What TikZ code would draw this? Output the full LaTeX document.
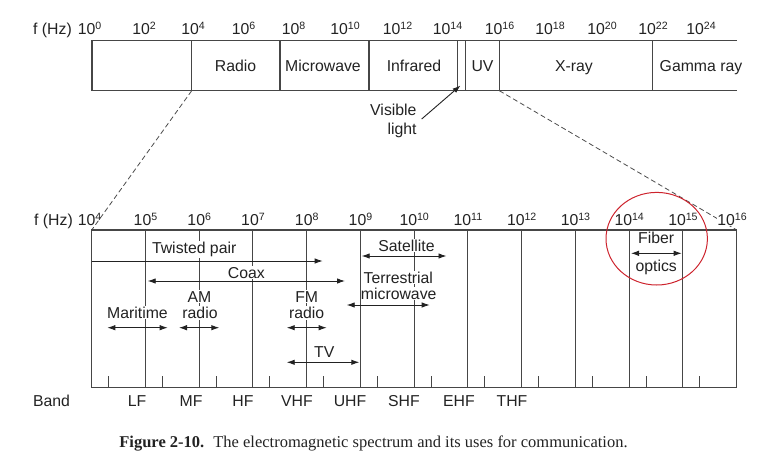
\documentclass[tikz,border=0pt]{standalone}
\usepackage{fontspec}
\setmainfont{Liberation Sans}
\newfontfamily\capfont{Liberation Serif}
\usetikzlibrary{arrows.meta}
\newcommand\pw[1]{10\raisebox{4.4pt}{\fontsize{10.6}{11}\selectfont #1}}
\definecolor{ink}{RGB}{34,34,34}
\definecolor{rule}{RGB}{70,70,70}
\definecolor{mark}{RGB}{205,35,45}
\begin{document}
\begin{tikzpicture}[x=1pt,y=-1pt,
  lbl/.style={font=\fontsize{15.8}{17}\selectfont, text=ink, inner sep=0.8pt, anchor=base},
  wlbl/.style={lbl, fill=white},
  frame/.style={draw=rule, line width=1.05pt},
  tick/.style={draw=rule, line width=1pt},
  guide/.style={draw=black!70, line width=0.8pt, dash pattern=on 5pt off 3pt},
  arr/.style={draw=ink, line width=0.9pt, -{Latex[length=8pt,width=5.5pt]}},
  darr/.style={draw=ink, line width=0.9pt, {Latex[length=8pt,width=5.5pt]}-{Latex[length=8pt,width=5.5pt]}},
  ring/.style={draw=mark, line width=1pt}
]
\useasboundingbox (0,0) rectangle (758,460);

% ---------- top scale ----------
\draw[frame] (736.7,40.7) -- (92,40.7) -- (92,90.7) -- (736.7,90.7);
\foreach \x/\nm in {191.7/d4, 280/d8, 369/d12, 457.7/dv1, 465.7/dv2, 499.3/d16, 652.7/d22}
  \draw[frame] (\x,40.7) -- (\x,90.7) coordinate (\nm);

\node[lbl] (fhzA) at (52.5,34.3) {f (Hz)};
\foreach \x/\e in {89.5/0, 144/2, 193/4, 243.5/6, 293.5/8, 345/10, 397.5/12, 447.5/14, 499.5/16, 550/18, 602/20, 653/22, 701/24}
  \node[lbl] (ta\e) at (\x,34.3) {\pw{\e}};

\node[lbl] (radio) at (235.5,71.7) {Radio};
\node[lbl] (micro) at (323,71.7) {Microwave};
\node[lbl] (infra) at (414,71.7) {Infrared};
\node[lbl] (uv) at (482.5,71.7) {UV};
\node[lbl] (xray) at (574,71.7) {X-ray};
\node[lbl] (gamma) at (701,71.7) {Gamma ray};

\node[lbl, anchor=base east] (vis1) at (417.5,115.7) {Visible};
\node[lbl, anchor=base east] (vis2) at (417.5,134.3) {light};
\coordinate (vtail) at (421.7,119);
\coordinate (vtip) at (460.5,85.5);
\draw[arr] (vtail) -- (vtip);

% ---------- bottom scale ----------
\coordinate (bTL) at (91.7,230);
\coordinate (bTR) at (736.7,230);
\draw[guide] (d4) -- (bTL);
\draw[guide] (d16) -- (bTR);

\draw[frame] (bTL) rectangle (736.7,387.3);
\foreach \n in {5,...,15}
  \draw[frame] ({91.7+(\n-4)*53.75},230) -- ({91.7+(\n-4)*53.75},387.3);
\foreach \n in {4,...,15}
  \draw[tick] ({91.7+(\n-4)*53.75+17},376) -- ({91.7+(\n-4)*53.75+17},387.3);

\node[lbl] (fhzB) at (53.5,225) {f (Hz)};
\node[lbl] (tb4) at (89.5,225) {\pw{4}};
\foreach \n in {5,...,15}
  \node[lbl] (tb\n) at ({91.7+(\n-4)*53.75},225) {\pw{\n}};
\node[wlbl] (tb16) at (732,225) {\pw{16}};

\node[lbl] (band) at (51.5,406.5) {Band};
\foreach \x/\b in {137/LF, 191/MF, 243/HF, 297/VHF, 350/UHF, 404/SHF, 459/EHF, 512/THF}
  \node[lbl] (bd\b) at (\x,406.5) {\b};

% uses
\node[wlbl] (twp) at (194.2,253.7) {Twisted pair};
\node[wlbl] (coax) at (246.3,278) {Coax};
\node[wlbl] (mari) at (137.5,318) {Maritime};
\node[wlbl] (am1) at (199.5,302) {AM};
\node[wlbl] (am2) at (200,318.7) {radio};
\node[wlbl] (fm1) at (306.7,302) {FM};
\node[wlbl] (fm2) at (306.7,318.7) {radio};
\node[wlbl] (tv) at (324.2,357) {TV};
\node[wlbl] (sat) at (406.5,251.4) {Satellite};
\node[wlbl, inner xsep=0pt] (ter1) at (398.3,283) {Terrestrial};
\node[wlbl, inner xsep=0pt] (ter2) at (398.7,299.5) {microwave};
\node[wlbl] (fib1) at (656.2,243) {Fiber};
\node[wlbl] (fib2) at (656.2,271) {optics};

\coordinate (twpL) at (91.7,261);   \coordinate (twpR) at (322.7,261);
\coordinate (coaxL) at (147.7,281); \coordinate (coaxR) at (345,281);
\coordinate (mariL) at (107.3,327.7); \coordinate (mariR) at (167.7,327.7);
\coordinate (amL) at (179,327.7);   \coordinate (amR) at (219.3,327.7);
\coordinate (fmL) at (286.7,327.7); \coordinate (fmR) at (326.7,327.7);
\coordinate (tvL) at (286.7,362.3); \coordinate (tvR) at (359.3,362.3);
\coordinate (satL) at (361.7,256);  \coordinate (satR) at (446.5,256);
\coordinate (terL) at (346.7,305);  \coordinate (terR) at (429.7,305);
\coordinate (fibL) at (631,253.3);  \coordinate (fibR) at (681.7,253.3);

\draw[arr] (twpL) -- (twpR);
\draw[darr] (coaxL) -- (coaxR);
\draw[darr] (mariL) -- (mariR);
\draw[darr] (amL) -- (amR);
\draw[darr] (fmL) -- (fmR);
\draw[darr] (tvL) -- (tvR);
\draw[darr] (satL) -- (satR);
\draw[darr] (terL) -- (terR);
\draw[darr] (fibL) -- (fibR);

% red circle
\draw[ring] (656.7,238.7) ellipse [x radius=50.7, y radius=46.3];

% caption
\node[anchor=base, inner sep=0pt, text=ink, font=\capfont\fontsize{16.5}{18}\selectfont] (cap) at (373.5,447.7)
  {\textbf{Figure 2-10.}\hspace{0.55em}The electromagnetic spectrum and its uses for communication.};
\end{tikzpicture}
\end{document}
